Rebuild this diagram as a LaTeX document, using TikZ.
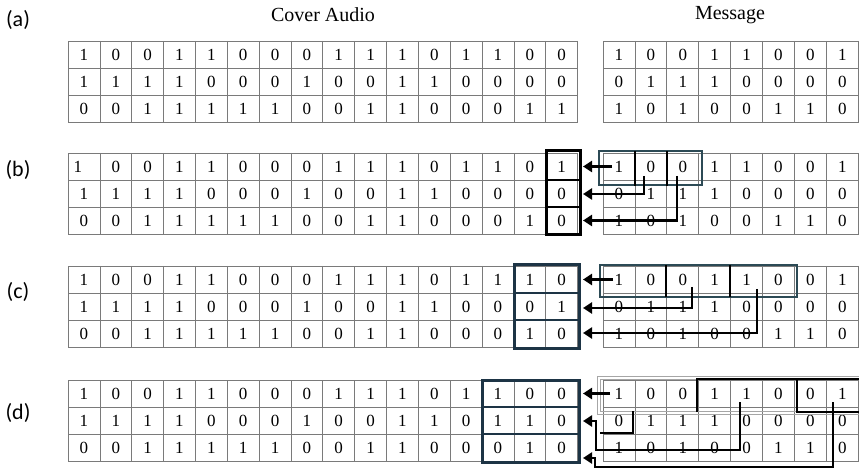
\documentclass[tikz,border=0pt]{standalone}
\usepackage{fontspec}
\setmainfont{Liberation Serif}
\newfontfamily\panelfont{Carlito}
\usetikzlibrary{arrows.meta}
\definecolor{navybox}{HTML}{1D3445}
\definecolor{tealbox}{HTML}{2C4A55}
\definecolor{gridgray}{HTML}{7A7A7A}
\newcommand{\bittable}[6]{%
  \foreach \rowdata [count=\i] in {#6} {
    \foreach \v [count=\j] in \rowdata {
      \node[cell] (#1-\i-\j) at ({#2+#4*(\j-0.5)}, {#3+27*(\i-0.5)}) {\v};
    }
  }
  \draw[gridline] (#2,#3) rectangle ({#2+#4*#5}, {#3+81});
  \foreach \k in {1,...,#5} { \draw[gridline] ({#2+#4*\k},#3) -- ++(0,81); }
  \draw[gridline] (#2,#3+27) -- ++({#4*#5},0);
  \draw[gridline] (#2,#3+54) -- ++({#4*#5},0);
}
\begin{document}
\begin{tikzpicture}[x=1pt,y=-1pt,
  gridline/.style={draw=gridgray, line width=0.7pt},
  cell/.style={inner sep=0pt, font=\fontsize{17}{17}\selectfont},
  panel/.style={font=\panelfont\fontsize{22}{22}\selectfont},
  heading/.style={font=\fontsize{20}{20}\selectfont},
  flow/.style={line width=2.6pt, line join=miter, -{Triangle[length=9pt,width=11pt]}},
  thickbar/.style={line width=2.6pt, draw=black},
  coverbox/.style={line width=3pt, draw=navybox},
  coversep/.style={line width=2.4pt, draw=navybox},
  msgbox/.style={line width=1.3pt, draw=tealbox},
  grayfrm/.style={line width=0.9pt, draw=gray!70},
]
\useasboundingbox (0,0) rectangle (859,470);

% headings and panel labels
\node[heading] (hcover) at (323,15) {Cover Audio};
\node[heading] (hmsg) at (730,15) {Message};
\node[panel] (la) at (18,20) {(a)};
\node[panel] (lb) at (18,170) {(b)};
\node[panel] (lc) at (18,292) {(c)};
\node[panel] (ld) at (18,413) {(d)};

% (a)
\bittable{ca}{68}{41}{31.85}{16}{{1,0,0,1,1,0,0,0,1,1,1,0,1,1,0,0},{1,1,1,1,0,0,0,1,0,0,1,1,0,0,0,0},{0,0,1,1,1,1,1,0,0,1,1,0,0,0,1,1}}
\bittable{ma}{603}{41}{31.9}{8}{{1,0,0,1,1,0,0,1},{0,1,1,1,0,0,0,0},{1,0,1,0,0,1,1,0}}

% (b)
\bittable{cb}{68}{153}{31.85}{16}{{{\kern-12pt 1},0,0,1,1,0,0,0,1,1,1,0,1,1,0,1},{1,1,1,1,0,0,0,1,0,0,1,1,0,0,0,0},{0,0,1,1,1,1,1,0,0,1,1,0,0,0,1,0}}
\bittable{mb}{603}{153}{31.9}{8}{{1,0,0,1,1,0,0,1},{0,1,1,1,0,0,0,0},{1,0,1,0,0,1,1,0}}

% (c)
\bittable{cc}{68}{266}{31.85}{16}{{1,0,0,1,1,0,0,0,1,1,1,0,1,1,1,0},{1,1,1,1,0,0,0,1,0,0,1,1,0,0,0,1},{0,0,1,1,1,1,1,0,0,1,1,0,0,0,1,0}}
\bittable{mc}{603}{266}{31.9}{8}{{1,0,0,1,1,0,0,1},{0,1,1,1,0,0,0,0},{1,0,1,0,0,1,1,0}}

% (d)
\bittable{cd}{68}{380}{31.85}{16}{{1,0,0,1,1,0,0,0,1,1,1,0,1,1,0,0},{1,1,1,1,0,0,0,1,0,0,1,1,0,1,1,0},{0,0,1,1,1,1,1,0,0,1,1,0,0,0,1,0}}
\bittable{md}{603}{380}{31.9}{8}{{1,0,0,1,1,0,0,1},{0,1,1,1,0,0,0,0},{1,0,1,0,0,1,1,0}}

% ---------- (b) highlights and arrows
\draw[line width=3pt] (546,151) rectangle (580,235);
\draw[thickbar] (546,180) -- (580,180);
\draw[thickbar] (546,207) -- (580,207);
\draw[msgbox] (599,151) rectangle (702,185);
\draw[thickbar] (635,151) -- (635,186);
\draw[thickbar] (667,151) -- (667,186);
\coordinate (b1s) at (612,166.5); \coordinate (b1e) at (583,166.5);
\coordinate (b2s) at (644,176);   \coordinate (b2e) at (583,194);
\coordinate (b3s) at (677,176);   \coordinate (b3e) at (583,220.5);
\draw[flow] (b1s) -- (b1e);
\draw[flow] (b2s) |- (b2e);
\draw[flow] (b3s) |- (b3e);

% ---------- (c) highlights and arrows
\draw[coverbox] (514,265) rectangle (579.5,348.5);
\draw[coversep] (514,293) -- (579.5,293);
\draw[coversep] (514,320) -- (579.5,320);
\draw[msgbox] (600,265) rectangle (797,297);
\draw[thickbar] (666,265) -- (666,297);
\draw[thickbar] (730,265) -- (730,297);
\coordinate (c1s) at (613,279.5); \coordinate (c1e) at (583,279.5);
\coordinate (c2s) at (692,287);   \coordinate (c2e) at (583,308);
\coordinate (c3s) at (757,289);   \coordinate (c3e) at (583,333);
\draw[flow] (c1s) -- (c1e);
\draw[flow] (c2s) |- (c2e);
\draw[flow] (c3s) |- (c3e);

% ---------- (d) highlights and arrows
\draw[coverbox] (482,380) rectangle (579.5,462.5);
\draw[coversep] (482,407) -- (579.5,407);
\draw[coversep] (482,434) -- (579.5,434);
\draw[grayfrm] (597,376) rectangle (862,414);
\draw[grayfrm] (600,379) rectangle (862,411);
\draw[thickbar] (697,412) -- (697,379) -- (862,379);
\draw[thickbar] (797,379) rectangle (862,412);
\draw[thickbar] (633,411) -- (633,433) -- (600,433);
\coordinate (d1s) at (610,393.5); \coordinate (d1e) at (583,393.5);
\coordinate (d2s) at (740,402);   \coordinate (d2e) at (583,421);
\coordinate (d3s) at (833,402);   \coordinate (d3e) at (583,458);
\draw[flow] (d1s) -- (d1e);
\draw[flow] (d2s) -- (740,450) -- (596,450) -- (596,421) -- (d2e);
\draw[flow] (d3s) -- (833,467) -- (595,467) -- (595,458) -- (d3e);
\end{tikzpicture}
\end{document}
